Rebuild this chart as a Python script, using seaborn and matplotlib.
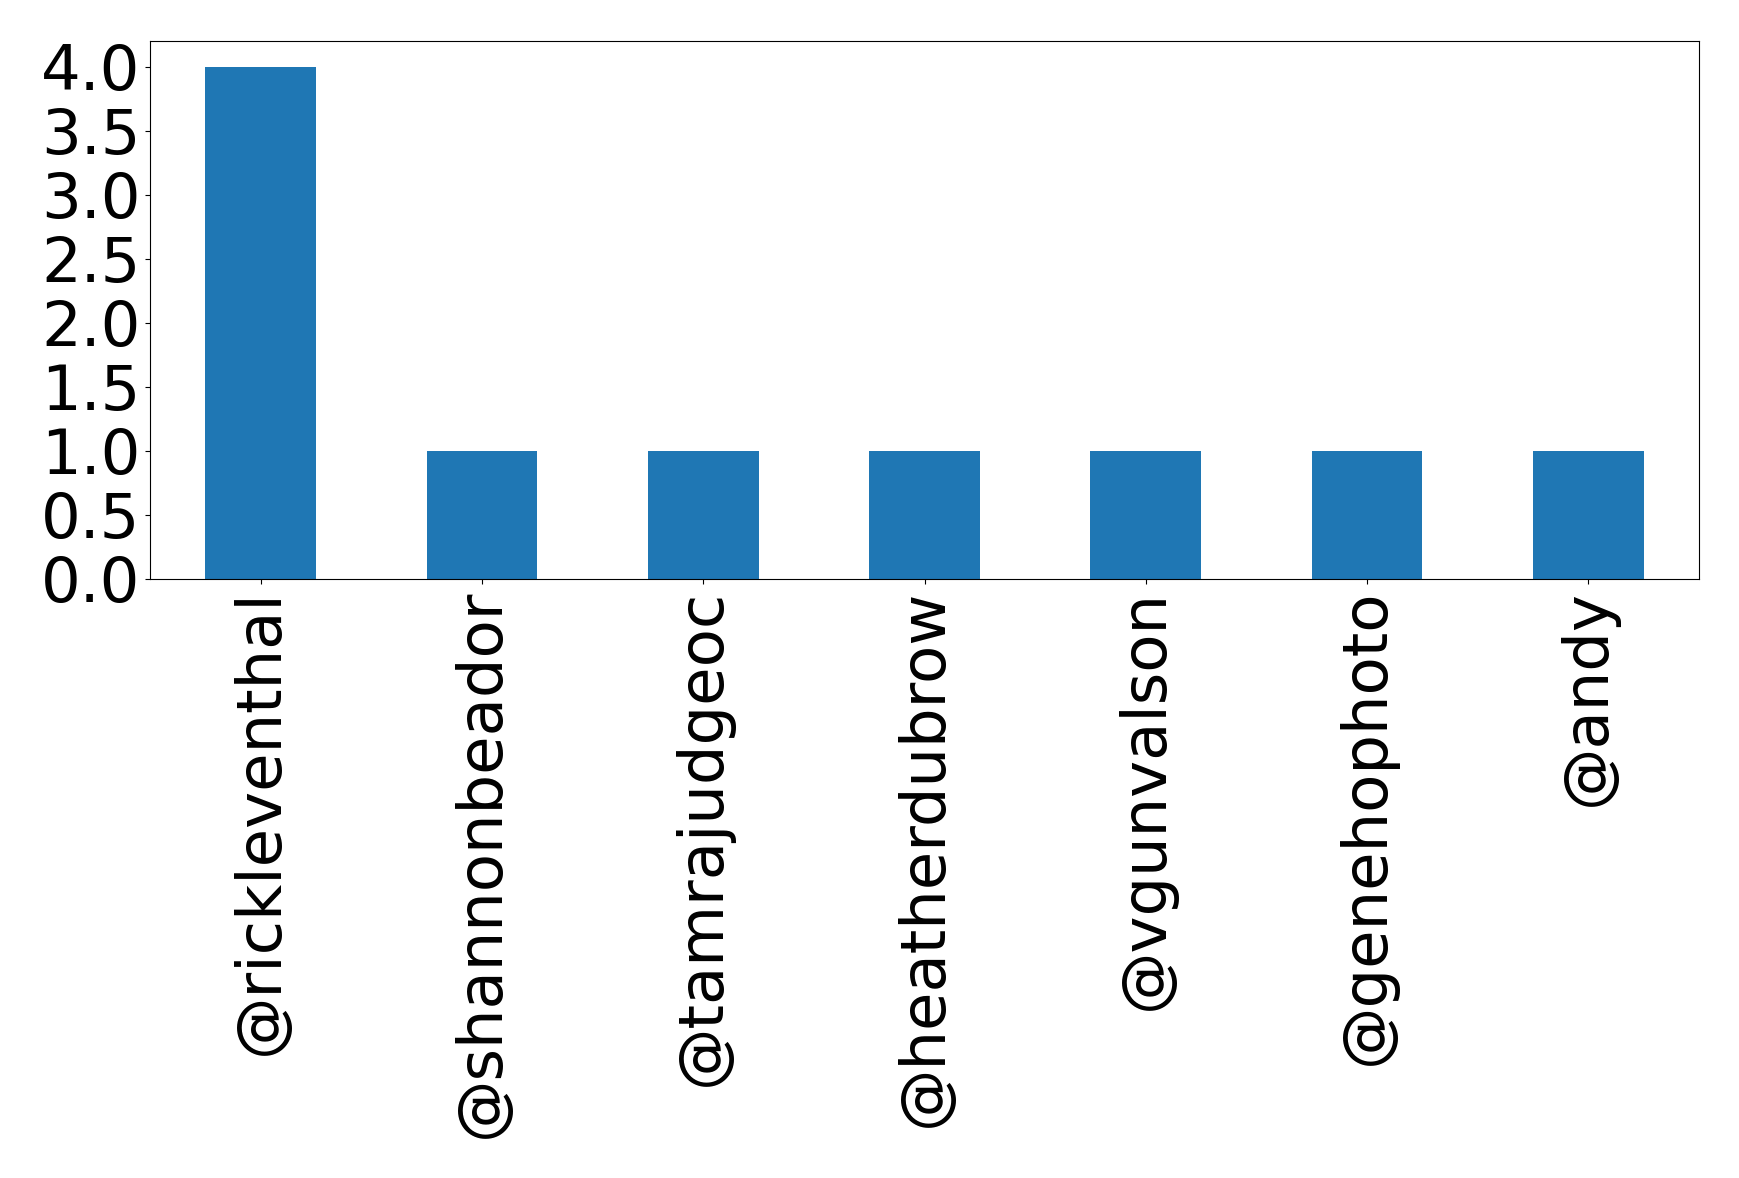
import matplotlib
matplotlib.use("Agg")
import matplotlib.pyplot as plt
import seaborn as sns
import pandas as pd
import numpy as np

# Erwähnte Accounts und Anzahl
accounts = ["@rickleventhal", "@shannonbeador", "@tamrajudgeoc", "@heatherdubrow",
            "@vgunvalson", "@genehophoto", "@andy"]
counts = [4, 1, 1, 1, 1, 1, 1]
yticks = np.arange(0, 4.01, 0.5)

df = pd.DataFrame({"account": accounts, "count": counts})

fig, ax = plt.subplots(figsize=(17.39, 11.78), dpi=100)
sns.barplot(data=df, x="account", y="count", color="#1f77b4", saturation=1,
            width=0.5, ax=ax)

ax.set_xlim(-0.5, len(accounts) - 0.5)
ax.set_ylim(0, max(counts) * 1.05)
ax.set_yticks(yticks)
ax.set_yticklabels([f"{t:.1f}" for t in yticks])
ax.set_xlabel("")
ax.set_ylabel("")
ax.tick_params(axis="both", labelsize=45)
plt.setp(ax.get_xticklabels(), rotation=90)

fig.subplots_adjust(left=0.0863, right=0.977, top=0.965, bottom=0.5085)
fig.savefig("out.png", dpi=100)
plt.close()
